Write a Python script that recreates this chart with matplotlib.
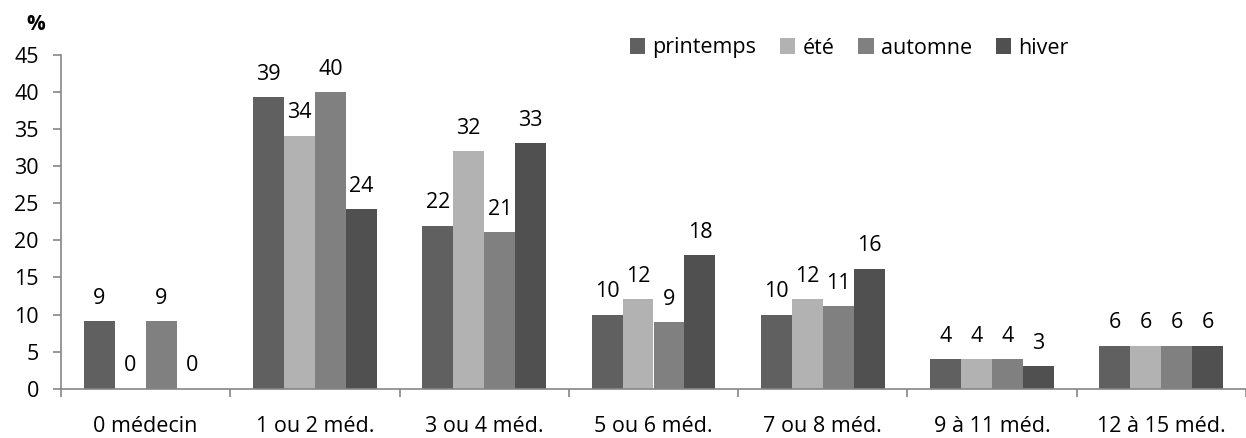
import numpy as np
import matplotlib
matplotlib.use("Agg")
import matplotlib.pyplot as plt

plt.rcParams['font.family'] = ['Open Sans', 'DejaVu Sans']

# categories (nombre de médecins consultés)
categories = ["0 médecin", "1 ou 2 méd.", "3 ou 4 méd.", "5 ou 6 méd.",
              "7 ou 8 méd.", "9 à 11 méd.", "12 à 15 méd."]
series_names = ["printemps", "été", "automne", "hiver"]

# bar heights (%)
printemps = [9.1, 39.3, 22.0, 10.0, 10.0, 4.0, 5.8]
ete = [0.0, 34.1, 32.0, 12.1, 12.1, 4.0, 5.8]
automne = [9.1, 40.0, 21.1, 9.0, 11.1, 4.0, 5.8]
hiver = [0.0, 24.2, 33.1, 18.0, 16.2, 3.0, 5.8]

# printed labels
lab_printemps = [9, 39, 22, 10, 10, 4, 6]
lab_ete = [0, 34, 32, 12, 12, 4, 6]
lab_automne = [9, 40, 21, 9, 11, 4, 6]
lab_hiver = [0, 24, 33, 18, 16, 3, 6]

colors = ["#606060", "#b2b2b2", "#808080", "#505050"]
fs = 15.5

fig = plt.figure(figsize=(12.46, 4.38), dpi=100)
ax = fig.add_axes([61 / 1246, 1 - 388.7 / 438, (1246 - 61) / 1246, 333.7 / 438])

x = np.arange(len(categories))
w = 0.183
all_vals = [printemps, ete, automne, hiver]
all_labs = [lab_printemps, lab_ete, lab_automne, lab_hiver]
for i, (vals, labs) in enumerate(zip(all_vals, all_labs)):
    pos = x + (i - 1.5) * w
    ax.bar(pos, vals, width=w, color=colors[i], label=series_names[i], zorder=2)
    for px, v, l in zip(pos, vals, labs):
        ax.annotate(str(l), (px, v), xytext=(0, 16.5), textcoords="offset points",
                    ha="center", va="center", fontsize=fs)

ax.set_ylim(0, 45)
ax.set_yticks(np.arange(0, 46, 5))
ax.set_xlim(-0.5, -0.5 + (1246 - 61) / 171.2)

# boundaries as major ticks, names as minor ticks
ax.set_xticks(np.arange(len(categories) + 1) - 0.5)
ax.set_xticklabels([])
ax.set_xticks(x, minor=True)
ax.set_xticklabels(categories, minor=True)

axis_col = "#868686"
for s in ["top", "right"]:
    ax.spines[s].set_visible(False)
for s in ["left", "bottom"]:
    ax.spines[s].set_color(axis_col)
    ax.spines[s].set_linewidth(1.2)
ax.tick_params(axis="y", direction="out", length=6, width=1.2, color=axis_col,
               labelsize=fs, pad=10)
ax.tick_params(axis="x", which="major", direction="out", length=6, width=1.2,
               color=axis_col)
ax.tick_params(axis="x", which="minor", length=0, labelsize=fs, pad=20)

fig.text(36 / 1246, 1 - 25 / 438, "%", ha="center", va="center",
         fontsize=15, fontweight="bold")

ax.legend(loc="center left", bbox_to_anchor=(630 / 1246, 1 - 48 / 438),
          bbox_transform=fig.transFigure, ncol=4, frameon=False, fontsize=fs,
          handlelength=0.7, handleheight=0.7, handletextpad=0.35,
          columnspacing=1.1, borderaxespad=0, borderpad=0)

fig.savefig("out.png", dpi=100)
